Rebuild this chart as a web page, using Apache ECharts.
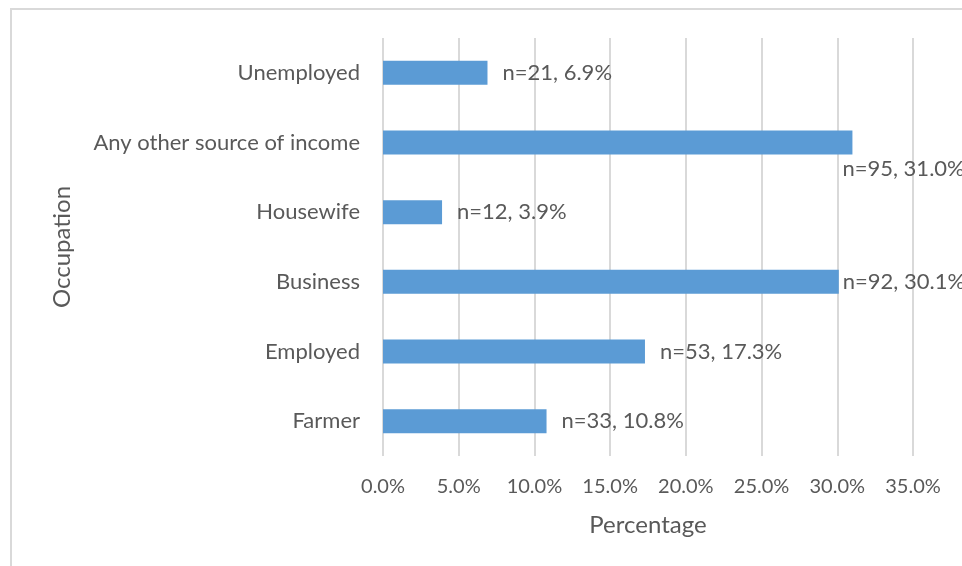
<!DOCTYPE html>
<html><head><meta charset="utf-8">
<script src="https://cdn.jsdelivr.net/npm/echarts@6/dist/echarts.min.js"></script>
<style>html,body{margin:0;padding:0;background:#fff}#c{width:962px;height:566px}</style>
</head><body><div id="c"></div>
<script>
var categories = ['Farmer', 'Employed', 'Business', 'Housewife', 'Any other source of income', 'Unemployed'];
var percentages = [10.8, 17.3, 30.1, 3.9, 31.0, 6.9];
var counts = [33, 53, 92, 12, 95, 21];
var xTicks = [0, 5, 10, 15, 20, 25, 30, 35];

var FONT = 'Lato';
var TXT = '#595959';
var chart = echarts.init(document.getElementById('c'));
var data = percentages.map(function (v, i) {
  var item = { value: v };
  if (categories[i] === 'Any other source of income') {
    item.label = { position: 'right', distance: 0, offset: [-10, 26] };
  } else if (categories[i] === 'Business') {
    item.label = { distance: 4 };
  }
  return item;
});
chart.setOption({
  animation: false,
  graphic: [{ type: 'rect', shape: { x: 11, y: 9, width: 1000, height: 600 },
    style: { fill: 'none', stroke: '#d9d9d9', lineWidth: 2 }, silent: true }],
  grid: { left: 383, right: 49, top: 38, bottom: 110, containLabel: false },
  xAxis: {
    type: 'value', min: xTicks[0], max: xTicks[xTicks.length - 1], interval: xTicks[1] - xTicks[0],
    axisLine: { show: false }, axisTick: { show: false },
    splitLine: { lineStyle: { color: '#d9d9d9', width: 2 } },
    axisLabel: { color: TXT, fontFamily: FONT, fontSize: 20, margin: 21,
      formatter: function (v) { return v.toFixed(1) + '%'; } },
    name: 'Percentage', nameLocation: 'middle', nameGap: 57,
    nameTextStyle: { color: TXT, fontFamily: FONT, fontSize: 24 }
  },
  yAxis: {
    type: 'category', data: categories,
    axisLine: { show: false }, axisTick: { show: false },
    axisLabel: { color: TXT, fontFamily: FONT, fontSize: 22, margin: 23 },
    name: 'Occupation', nameLocation: 'middle', nameGap: 309, nameRotate: 90,
    nameTextStyle: { color: TXT, fontFamily: FONT, fontSize: 24 }
  },
  series: [{
    type: 'bar', data: data, barWidth: 24,
    itemStyle: { color: '#5b9bd5' },
    label: { show: true, position: 'right', distance: 15, color: TXT, fontFamily: FONT, fontSize: 22,
      formatter: function (p) { return 'n=' + counts[p.dataIndex] + ', ' + p.value.toFixed(1) + '%'; } }
  }]
});
</script></body></html>
